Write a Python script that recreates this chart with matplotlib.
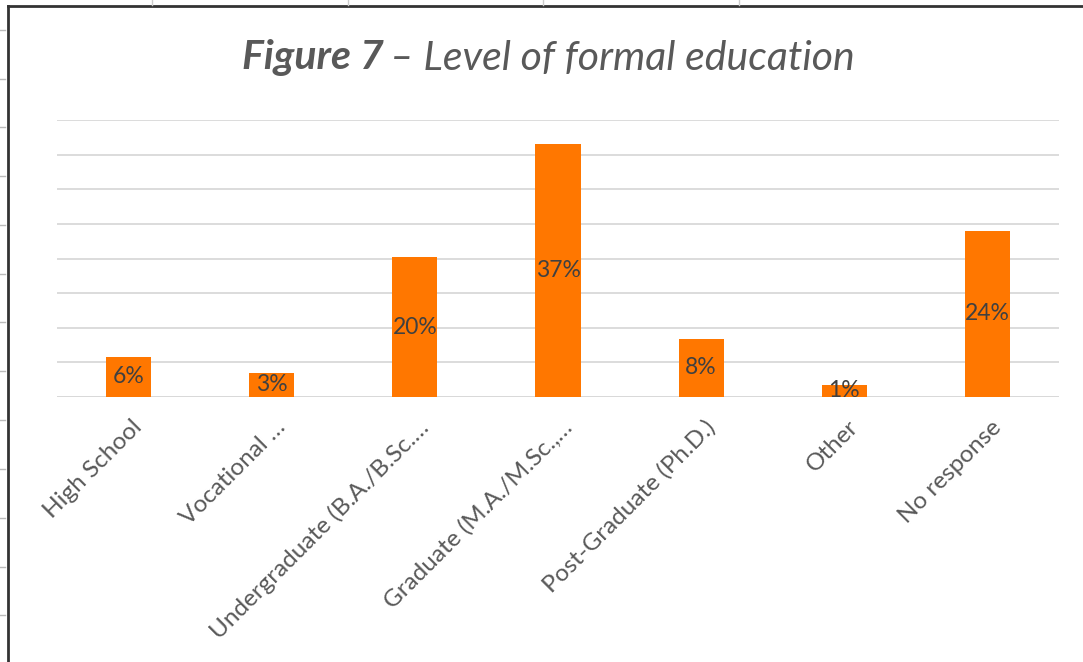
import matplotlib
matplotlib.use("Agg")
import matplotlib.pyplot as plt
from matplotlib.lines import Line2D
import matplotlib.transforms as mtransforms

categories = ["High School", "Vocational …", "Undergraduate (B.A./B.Sc.…",
              "Graduate (M.A./M.Sc.,…", "Post-Graduate (Ph.D.)", "Other", "No response"]
values = [5.8, 3.5, 20.2, 36.6, 8.4, 1.8, 24.0]
value_labels = ["6%", "3%", "20%", "37%", "8%", "1%", "24%"]
y_ticks = [0, 5, 10, 15, 20, 25, 30, 35, 40]

W, H = 1083, 662
fig = plt.figure(figsize=(W / 100, H / 100), dpi=100)
FONT = ["Lato", "DejaVu Sans"]

ax = fig.add_axes([57 / W, 1 - 397 / H, (1059 - 57) / W, (397 - 120) / H])
x = list(range(len(categories)))
ax.bar(x, values, width=0.315, color="#FF7700", zorder=3)
ax.set_xlim(-0.5, len(categories) - 0.5)
ax.set_ylim(0, 40)
ax.set_yticks(y_ticks)
ax.yaxis.grid(True, color="#d9d9d9", linewidth=1.3, zorder=0)
ax.set_yticklabels([])
ax.tick_params(axis="y", length=0)
ax.tick_params(axis="x", length=0, pad=14)
for s in ax.spines.values():
    s.set_visible(False)
ax.axhline(0, color="#d9d9d9", linewidth=1.3, zorder=2)
ax.set_xticks(x)
ax.set_xticklabels(categories, rotation=45, ha="right", va="top",
                   rotation_mode="anchor", fontsize=17.5, color="#595959",
                   family=FONT)
offset = mtransforms.ScaledTranslation(3 / 100, 0, fig.dpi_scale_trans)
for lbl in ax.get_xticklabels():
    lbl.set_transform(lbl.get_transform() + offset)
for xi, v, lab in zip(x, values, value_labels):
    ax.text(xi, v / 2, lab, ha="center", va="center", fontsize=16.5,
            color="#404040", family=FONT, zorder=4)

# title (bold italic + italic)
t1 = fig.text(242 / W, 1 - 58 / H, "Figure 7", ha="left", va="center",
              fontsize=29.5, fontweight="bold", style="italic", color="#595959",
              family=FONT)
fig.canvas.draw()
bb = t1.get_window_extent()
fig.text((bb.x1 + 6) / W, 1 - 58 / H, "– Level of formal education",
         ha="left", va="center", fontsize=29.5, style="italic",
         color="#595959", family=FONT)

# chart border (screenshot frame)
fig.add_artist(Line2D([8 / W, 8 / W], [0, 1 - 6 / H], color="#333333",
                      linewidth=2, transform=fig.transFigure))
fig.add_artist(Line2D([8 / W, 1], [1 - 6 / H, 1 - 6 / H], color="#333333",
                      linewidth=2, transform=fig.transFigure))
# spreadsheet row/column marks
for yy in [30, 79, 127, 176, 225, 274, 322, 371, 420, 469, 518, 567, 615]:
    fig.add_artist(Line2D([0, 5 / W], [1 - yy / H, 1 - yy / H], color="#bbbbbb",
                          linewidth=1, transform=fig.transFigure))
for xx in [152, 348, 543, 739]:
    fig.add_artist(Line2D([xx / W, xx / W], [1, 1 - 5 / H], color="#cccccc",
                          linewidth=1, transform=fig.transFigure))

fig.savefig("out.png", dpi=100, facecolor="white")
